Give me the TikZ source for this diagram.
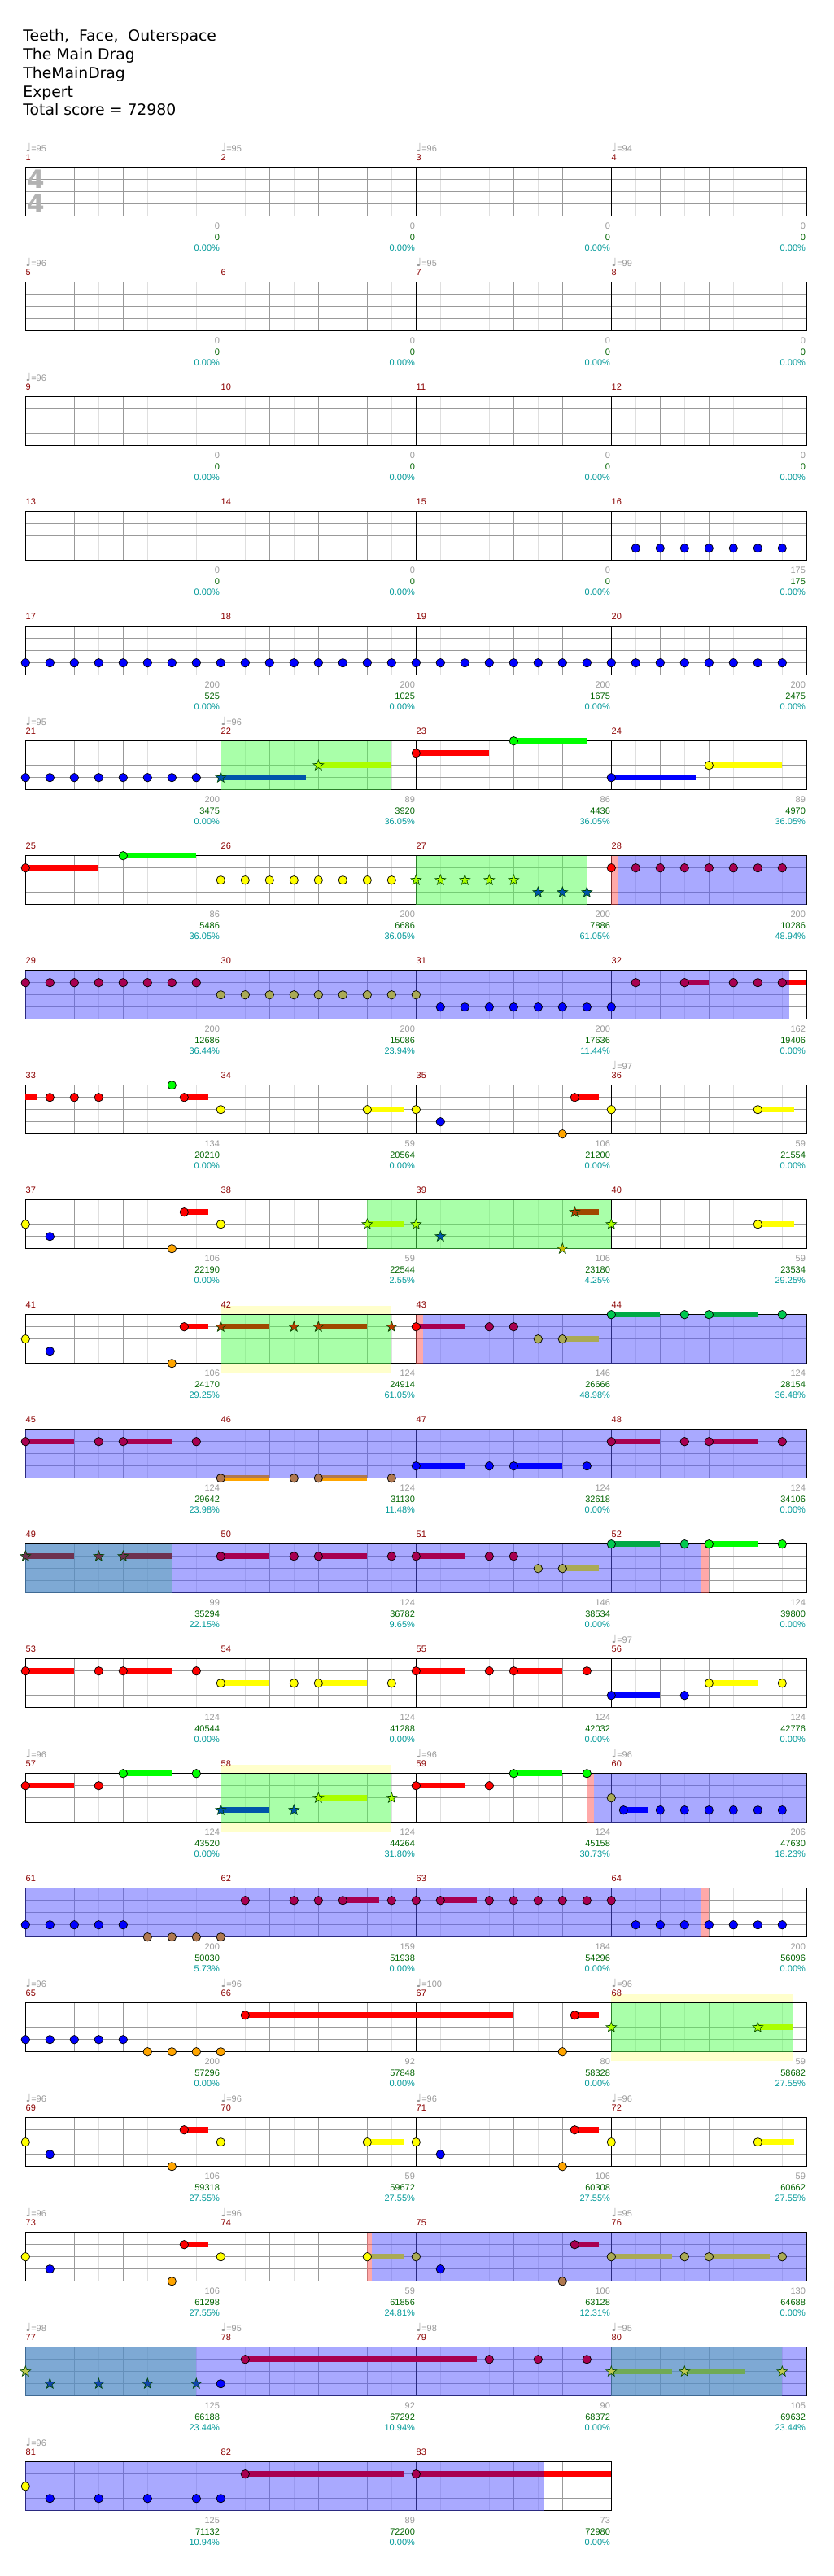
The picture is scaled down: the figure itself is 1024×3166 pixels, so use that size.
\documentclass[tikz,border=0pt]{standalone}
\usepackage{fontspec}
\setmainfont{DejaVu Sans}
\newfontfamily\chartfont{Liberation Sans}
\newfontfamily\notesym{DejaVu Sans}
\usepackage{tikz}

\tikzset{pics/spstar/.style={code={%
  \filldraw[fill=#1, draw=stardraw, line width=0.3pt] (90:3.4pt) -- (126:1.4pt) -- (162:3.4pt) -- (198:1.4pt) -- (234:3.4pt)
    -- (270:1.4pt) -- (306:3.4pt) -- (342:1.4pt) -- (18:3.4pt) -- (54:1.4pt) -- cycle;}}}

\newcommand{\staffgrid}[1]{%
  \fill[white] (0,0) rectangle (#1,60);
  \foreach \i in {1,3,...,#1} \draw[eighthline] (\i,0) -- (\i,60);
  \foreach \i in {2,4,...,#1} \draw[beatline] (\i,0) -- (\i,60);
  \foreach \j in {15,30,45} \draw[beatline] (0,\j) -- (#1,\j);
  \foreach \i in {8,16,...,#1} \draw[barline] (\i,0) -- (\i,60);
  \draw[barline, line width=0.75pt] (0,0) rectangle (#1,60);}
\newcommand{\notegem}[3]{\filldraw[fill=#3, draw=black, line width=0.35pt] (#1,{15*#2}) circle[radius=2.6pt];}
\newcommand{\notehold}[4]{\fill[#4] (#1,{15*#3-3.5}) rectangle (#2,{15*#3+3.5});}
\newcommand{\notestar}[3]{\pic at (#1,{15*#2}) {spstar=#3};}
\newcommand{\spzone}[2]{\fill[spfill] (#1,0) rectangle (#2,60);}
\newcommand{\odzone}[2]{\fill[odfill] (#1,0) rectangle (#2,60);}
\newcommand{\odedge}[2]{\fill[edgefill] (#1,0) rectangle (#2,60);}
\newcommand{\spglow}[2]{\fill[glowfill] (#1,-11) rectangle (#2,71);}
\newcommand{\measinfo}[6]{%
  \node[measnum] (m#2) at (8*#1,-11.7) {#2};
  \ifx&#3&\else\node[tempo] (t#2) at (8*#1,-24.7) {{\notesym\fontsize{7}{7}\selectfont ♩}=#3};\fi
  \node[scoregray] (g#2) at (8*#1+8,72.3) {#4};
  \node[scoregreen] (s#2) at (8*#1+8,85.6) {#5};
  \node[scoreteal] (p#2) at (8*#1+8,99) {#6};}

\begin{document}
\begin{tikzpicture}[x=0.5pt, y=-0.5pt,
    eighthline/.style={draw=gray!25, line width=0.5pt},
    beatline/.style={draw=gray!80, line width=0.5pt},
    barline/.style={draw=black, line width=0.5pt},
    spfill/.style={fill=spgreen, fill opacity=0.5},
    odfill/.style={fill=odpurple, fill opacity=0.5},
    edgefill/.style={fill=edgepink, fill opacity=0.5},
    glowfill/.style={fill=glowyellow},
    smalltext/.style={inner sep=0pt, font=\chartfont\fontsize{5.5}{6}\selectfont},
    measnum/.style={smalltext, anchor=west, text=measred},
    tempo/.style={smalltext, anchor=west, text=gray!80},
    scoregray/.style={smalltext, anchor=east, xshift=-0.5pt, text=gray!80},
    scoregreen/.style={smalltext, anchor=east, xshift=-0.5pt, text=scoregreen},
    scoreteal/.style={smalltext, anchor=east, xshift=-0.5pt, text=scoreteal},
    header/.style={anchor=base west, inner sep=0pt, font=\fontsize{9.4}{11.5}\selectfont},
    timesig/.style={inner sep=0pt, text=gray!60, font=\bfseries\fontsize{15.5}{16}\selectfont}]
  \definecolor{nred}{RGB}{255,0,0}
  \definecolor{ngreen}{RGB}{0,255,0}
  \definecolor{nyellow}{RGB}{255,255,0}
  \definecolor{nblue}{RGB}{0,0,255}
  \definecolor{norange}{RGB}{255,165,0}
  \definecolor{odred}{RGB}{168,0,80}
  \definecolor{odyellow}{RGB}{170,170,85}
  \definecolor{odorange}{RGB}{176,120,80}
  \definecolor{odgreen}{RGB}{0,200,80}
  \definecolor{odgreenhold}{RGB}{0,170,70}
  \definecolor{spred}{RGB}{160,72,0}
  \definecolor{spredstar}{RGB}{180,60,0}
  \definecolor{spyellow}{RGB}{170,255,0}
  \definecolor{spblue}{RGB}{0,85,170}
  \definecolor{sporange}{RGB}{200,190,0}
  \definecolor{spodred}{RGB}{110,50,80}
  \definecolor{spodblue}{RGB}{17,68,170}
  \definecolor{spodyellow}{RGB}{112,170,85}
  \definecolor{spodystar}{RGB}{190,200,80}
  \definecolor{stardraw}{RGB}{0,70,0}
  \definecolor{spgreen}{RGB}{85,255,85}
  \definecolor{odpurple}{RGB}{85,85,255}
  \definecolor{edgepink}{RGB}{255,85,85}
  \definecolor{glowyellow}{RGB}{255,255,204}
  \definecolor{measred}{RGB}{139,0,0}
  \definecolor{scoregreen}{RGB}{0,100,0}
  \definecolor{scoreteal}{RGB}{0,153,153}

  \useasboundingbox[fill=white] (0,0) rectangle (1024,3166);

  \node[header] (hsong) at (28,50) {Teeth,\ \ Face,\ \ Outerspace};
  \node[header] (hchart) at (28,73) {The Main Drag};
  \node[header] (hname) at (28,96) {TheMainDrag};
  \node[header] (hdiff) at (28,119) {Expert};
  \node[header] (hscore) at (28,141.7) {Total score = 72980};

  \begin{scope}[shift={(31.3,205.7)}, x=15pt]
    \staffgrid{32}
    \node[timesig] (ts1) at (0.44,14.8) {4};
    \node[timesig] (ts2) at (0.44,44.8) {4};
    \measinfo{0}{1}{95}{0}{0}{0.00\%}
    \measinfo{1}{2}{95}{0}{0}{0.00\%}
    \measinfo{2}{3}{96}{0}{0}{0.00\%}
    \measinfo{3}{4}{94}{0}{0}{0.00\%}
  \end{scope}

  \begin{scope}[shift={(31.3,346.7)}, x=15pt]
    \staffgrid{32}
    \measinfo{0}{5}{96}{0}{0}{0.00\%}
    \measinfo{1}{6}{}{0}{0}{0.00\%}
    \measinfo{2}{7}{95}{0}{0}{0.00\%}
    \measinfo{3}{8}{99}{0}{0}{0.00\%}
  \end{scope}

  \begin{scope}[shift={(31.3,487.7)}, x=15pt]
    \staffgrid{32}
    \measinfo{0}{9}{96}{0}{0}{0.00\%}
    \measinfo{1}{10}{}{0}{0}{0.00\%}
    \measinfo{2}{11}{}{0}{0}{0.00\%}
    \measinfo{3}{12}{}{0}{0}{0.00\%}
  \end{scope}

  \begin{scope}[shift={(31.3,628.7)}, x=15pt]
    \staffgrid{32}
    \foreach \e in {25,...,31} {\notegem{\e}{3}{nblue}}
    \measinfo{0}{13}{}{0}{0}{0.00\%}
    \measinfo{1}{14}{}{0}{0}{0.00\%}
    \measinfo{2}{15}{}{0}{0}{0.00\%}
    \measinfo{3}{16}{}{175}{175}{0.00\%}
  \end{scope}

  \begin{scope}[shift={(31.3,769.7)}, x=15pt]
    \staffgrid{32}
    \foreach \e in {0,...,31} {\notegem{\e}{3}{nblue}}
    \measinfo{0}{17}{}{200}{525}{0.00\%}
    \measinfo{1}{18}{}{200}{1025}{0.00\%}
    \measinfo{2}{19}{}{200}{1675}{0.00\%}
    \measinfo{3}{20}{}{200}{2475}{0.00\%}
  \end{scope}

  \begin{scope}[shift={(31.3,910.7)}, x=15pt]
    \staffgrid{32}
    \spzone{8}{15}
    \foreach \e in {0,...,7} {\notegem{\e}{3}{nblue}}
    \notehold{8}{11.5}{3}{spblue} \notestar{8}{3}{spblue}
    \notehold{12}{15}{2}{spyellow} \notestar{12}{2}{spyellow}
    \notehold{16}{19}{1}{nred} \notegem{16}{1}{nred}
    \notehold{20}{23}{0}{ngreen} \notegem{20}{0}{ngreen}
    \notehold{24}{27.5}{3}{nblue} \notegem{24}{3}{nblue}
    \notehold{28}{31}{2}{nyellow} \notegem{28}{2}{nyellow}
    \measinfo{0}{21}{95}{200}{3475}{0.00\%}
    \measinfo{1}{22}{96}{89}{3920}{36.05\%}
    \measinfo{2}{23}{}{86}{4436}{36.05\%}
    \measinfo{3}{24}{}{89}{4970}{36.05\%}
  \end{scope}

  \begin{scope}[shift={(31.3,1051.7)}, x=15pt]
    \staffgrid{32}
    \spzone{16}{23}
    \odedge{24}{24.27}
    \odzone{24.27}{32}
    \notehold{0}{3}{1}{nred} \notegem{0}{1}{nred}
    \notehold{4}{7}{0}{ngreen} \notegem{4}{0}{ngreen}
    \foreach \e in {8,...,15} {\notegem{\e}{2}{nyellow}}
    \foreach \e in {16,...,20} {\notestar{\e}{2}{spyellow}}
    \foreach \e in {21,22,23} {\notestar{\e}{3}{spblue}}
    \notegem{24}{1}{nred}
    \foreach \e in {25,...,31} {\notegem{\e}{1}{odred}}
    \measinfo{0}{25}{}{86}{5486}{36.05\%}
    \measinfo{1}{26}{}{200}{6686}{36.05\%}
    \measinfo{2}{27}{}{200}{7886}{61.05\%}
    \measinfo{3}{28}{}{200}{10286}{48.94\%}
  \end{scope}

  \begin{scope}[shift={(31.3,1192.7)}, x=15pt]
    \staffgrid{32}
    \odzone{0}{31.28}
    \foreach \e in {0,...,7} {\notegem{\e}{1}{odred}}
    \foreach \e in {8,...,16} {\notegem{\e}{2}{odyellow}}
    \foreach \e in {17,...,24} {\notegem{\e}{3}{nblue}}
    \notegem{25}{1}{odred}
    \notehold{27}{28}{1}{odred} \notegem{27}{1}{odred}
    \notegem{29}{1}{odred}
    \notegem{30}{1}{odred}
    \notehold{31}{31.28}{1}{odred} \notehold{31.28}{32}{1}{nred} \notegem{31}{1}{odred}
    \measinfo{0}{29}{}{200}{12686}{36.44\%}
    \measinfo{1}{30}{}{200}{15086}{23.94\%}
    \measinfo{2}{31}{}{200}{17636}{11.44\%}
    \measinfo{3}{32}{}{162}{19406}{0.00\%}
  \end{scope}

  \begin{scope}[shift={(31.3,1333.7)}, x=15pt]
    \staffgrid{32}
    \notehold{0}{0.48}{1}{nred}
    \foreach \e in {1,2,3} {\notegem{\e}{1}{nred}}
    \notegem{6}{0}{ngreen}
    \notehold{6.5}{7.5}{1}{nred} \notegem{6.5}{1}{nred}
    \notegem{8}{2}{nyellow}
    \notehold{14}{15.5}{2}{nyellow} \notegem{14}{2}{nyellow}
    \notegem{16}{2}{nyellow}
    \notegem{17}{3}{nblue}
    \notegem{22}{4}{norange}
    \notehold{22.5}{23.5}{1}{nred} \notegem{22.5}{1}{nred}
    \notegem{24}{2}{nyellow}
    \notehold{30}{31.5}{2}{nyellow} \notegem{30}{2}{nyellow}
    \measinfo{0}{33}{}{134}{20210}{0.00\%}
    \measinfo{1}{34}{}{59}{20564}{0.00\%}
    \measinfo{2}{35}{}{106}{21200}{0.00\%}
    \measinfo{3}{36}{97}{59}{21554}{0.00\%}
  \end{scope}

  \begin{scope}[shift={(31.3,1474.7)}, x=15pt]
    \staffgrid{32}
    \spzone{14}{24}
    \notegem{0}{2}{nyellow}
    \notegem{1}{3}{nblue}
    \notegem{6}{4}{norange}
    \notehold{6.5}{7.5}{1}{nred} \notegem{6.5}{1}{nred}
    \notegem{8}{2}{nyellow}
    \notehold{14}{15.5}{2}{spyellow} \notestar{14}{2}{spyellow}
    \notestar{16}{2}{spyellow}
    \notestar{17}{3}{spblue}
    \notestar{22}{4}{sporange}
    \notehold{22.5}{23.5}{1}{spred} \notestar{22.5}{1}{spredstar}
    \notestar{24}{2}{spyellow}
    \notehold{30}{31.5}{2}{nyellow} \notegem{30}{2}{nyellow}
    \measinfo{0}{37}{}{106}{22190}{0.00\%}
    \measinfo{1}{38}{}{59}{22544}{2.55\%}
    \measinfo{2}{39}{}{106}{23180}{4.25\%}
    \measinfo{3}{40}{}{59}{23534}{29.25\%}
  \end{scope}

  \begin{scope}[shift={(31.3,1615.7)}, x=15pt]
    \spglow{8}{15}
    \staffgrid{32}
    \spzone{8}{15}
    \odedge{16}{16.3}
    \odzone{16.3}{32}
    \notegem{0}{2}{nyellow}
    \notegem{1}{3}{nblue}
    \notegem{6}{4}{norange}
    \notehold{6.5}{7.5}{1}{nred} \notegem{6.5}{1}{nred}
    \notehold{8}{10}{1}{spred} \notestar{8}{1}{spredstar}
    \notestar{11}{1}{spredstar}
    \notehold{12}{14}{1}{spred} \notestar{12}{1}{spredstar}
    \notestar{15}{1}{spredstar}
    \notehold{16}{18}{1}{odred} \notegem{16}{1}{nred}
    \notegem{19}{1}{odred}
    \notegem{20}{1}{odred}
    \notegem{21}{2}{odyellow}
    \notehold{22}{23.5}{2}{odyellow} \notegem{22}{2}{odyellow}
    \notehold{24}{26}{0}{odgreenhold} \notegem{24}{0}{odgreen}
    \notegem{27}{0}{odgreen}
    \notehold{28}{30}{0}{odgreenhold} \notegem{28}{0}{odgreen}
    \notegem{31}{0}{odgreen}
    \measinfo{0}{41}{}{106}{24170}{29.25\%}
    \measinfo{1}{42}{}{124}{24914}{61.05\%}
    \measinfo{2}{43}{}{146}{26666}{48.98\%}
    \measinfo{3}{44}{}{124}{28154}{36.48\%}
  \end{scope}

  \begin{scope}[shift={(31.3,1756.7)}, x=15pt]
    \staffgrid{32}
    \odzone{0}{32}
    \notehold{0}{2}{1}{odred} \notegem{0}{1}{odred}
    \notegem{3}{1}{odred}
    \notehold{4}{6}{1}{odred} \notegem{4}{1}{odred}
    \notegem{7}{1}{odred}
    \fill[odorange] (8,56.5) rectangle (10,60); \fill[norange] (8,60) rectangle (10,63.5);
    \notegem{8}{4}{odorange}
    \notegem{11}{4}{odorange}
    \fill[odorange] (12,56.5) rectangle (14,60); \fill[norange] (12,60) rectangle (14,63.5);
    \notegem{12}{4}{odorange}
    \notegem{15}{4}{odorange}
    \notehold{16}{18}{3}{nblue} \notegem{16}{3}{nblue}
    \notegem{19}{3}{nblue}
    \notehold{20}{22}{3}{nblue} \notegem{20}{3}{nblue}
    \notegem{23}{3}{nblue}
    \notehold{24}{26}{1}{odred} \notegem{24}{1}{odred}
    \notegem{27}{1}{odred}
    \notehold{28}{30}{1}{odred} \notegem{28}{1}{odred}
    \notegem{31}{1}{odred}
    \measinfo{0}{45}{}{124}{29642}{23.98\%}
    \measinfo{1}{46}{}{124}{31130}{11.48\%}
    \measinfo{2}{47}{}{124}{32618}{0.00\%}
    \measinfo{3}{48}{}{124}{34106}{0.00\%}
  \end{scope}

  \begin{scope}[shift={(31.3,1897.7)}, x=15pt]
    \staffgrid{32}
    \spzone{0}{6}
    \odzone{0}{27.69}
    \odedge{27.69}{28}
    \notehold{0}{2}{1}{spodred} \notestar{0}{1}{spodred}
    \notestar{3}{1}{spodred}
    \notehold{4}{6}{1}{spodred} \notestar{4}{1}{spodred}
    \notehold{8}{10}{1}{odred} \notegem{8}{1}{odred}
    \notegem{11}{1}{odred}
    \notehold{12}{14}{1}{odred} \notegem{12}{1}{odred}
    \notegem{15}{1}{odred}
    \notehold{16}{18}{1}{odred} \notegem{16}{1}{odred}
    \notegem{19}{1}{odred}
    \notegem{20}{1}{odred}
    \notegem{21}{2}{odyellow}
    \notehold{22}{23.5}{2}{odyellow} \notegem{22}{2}{odyellow}
    \notehold{24}{26}{0}{odgreenhold} \notegem{24}{0}{odgreen}
    \notegem{27}{0}{odgreen}
    \notehold{28}{30}{0}{ngreen} \notegem{28}{0}{ngreen}
    \notegem{31}{0}{ngreen}
    \measinfo{0}{49}{}{99}{35294}{22.15\%}
    \measinfo{1}{50}{}{124}{36782}{9.65\%}
    \measinfo{2}{51}{}{146}{38534}{0.00\%}
    \measinfo{3}{52}{}{124}{39800}{0.00\%}
  \end{scope}

  \begin{scope}[shift={(31.3,2038.7)}, x=15pt]
    \staffgrid{32}
    \notehold{0}{2}{1}{nred} \notegem{0}{1}{nred}
    \notegem{3}{1}{nred}
    \notehold{4}{6}{1}{nred} \notegem{4}{1}{nred}
    \notegem{7}{1}{nred}
    \notehold{8}{10}{2}{nyellow} \notegem{8}{2}{nyellow}
    \notegem{11}{2}{nyellow}
    \notehold{12}{14}{2}{nyellow} \notegem{12}{2}{nyellow}
    \notegem{15}{2}{nyellow}
    \notehold{16}{18}{1}{nred} \notegem{16}{1}{nred}
    \notegem{19}{1}{nred}
    \notehold{20}{22}{1}{nred} \notegem{20}{1}{nred}
    \notegem{23}{1}{nred}
    \notehold{24}{26}{3}{nblue} \notegem{24}{3}{nblue}
    \notegem{27}{3}{nblue}
    \notehold{28}{30}{2}{nyellow} \notegem{28}{2}{nyellow}
    \notegem{31}{2}{nyellow}
    \measinfo{0}{53}{}{124}{40544}{0.00\%}
    \measinfo{1}{54}{}{124}{41288}{0.00\%}
    \measinfo{2}{55}{}{124}{42032}{0.00\%}
    \measinfo{3}{56}{97}{124}{42776}{0.00\%}
  \end{scope}

  \begin{scope}[shift={(31.3,2179.7)}, x=15pt]
    \spglow{8}{15}
    \staffgrid{32}
    \spzone{8}{15}
    \odedge{23}{23.3}
    \odzone{23.3}{32}
    \notehold{0}{2}{1}{nred} \notegem{0}{1}{nred}
    \notegem{3}{1}{nred}
    \notehold{4}{6}{0}{ngreen} \notegem{4}{0}{ngreen}
    \notegem{7}{0}{ngreen}
    \notehold{8}{10}{3}{spblue} \notestar{8}{3}{spblue}
    \notestar{11}{3}{spblue}
    \notehold{12}{14}{2}{spyellow} \notestar{12}{2}{spyellow}
    \notestar{15}{2}{spyellow}
    \notehold{16}{18}{1}{nred} \notegem{16}{1}{nred}
    \notegem{19}{1}{nred}
    \notehold{20}{22}{0}{ngreen} \notegem{20}{0}{ngreen}
    \notegem{23}{0}{ngreen}
    \notegem{24}{2}{odyellow}
    \notehold{24.5}{25.5}{3}{nblue} \notegem{24.5}{3}{nblue}
    \foreach \e in {26,...,31} {\notegem{\e}{3}{nblue}}
    \measinfo{0}{57}{96}{124}{43520}{0.00\%}
    \measinfo{1}{58}{}{124}{44264}{31.80\%}
    \measinfo{2}{59}{96}{124}{45158}{30.73\%}
    \measinfo{3}{60}{96}{206}{47630}{18.23\%}
  \end{scope}

  \begin{scope}[shift={(31.3,2320.7)}, x=15pt]
    \staffgrid{32}
    \odzone{0}{27.67}
    \odedge{27.67}{28}
    \foreach \e in {0,...,4} {\notegem{\e}{3}{nblue}}
    \foreach \e in {5,...,8} {\notegem{\e}{4}{odorange}}
    \notehold{13}{14.5}{1}{odred}
    \notehold{17}{18.5}{1}{odred}
    \foreach \e in {9,11,12,13,15,16,17,19,20,21,22,23,24} {\notegem{\e}{1}{odred}}
    \foreach \e in {25,...,31} {\notegem{\e}{3}{nblue}}
    \measinfo{0}{61}{}{200}{50030}{5.73\%}
    \measinfo{1}{62}{}{159}{51938}{0.00\%}
    \measinfo{2}{63}{}{184}{54296}{0.00\%}
    \measinfo{3}{64}{}{200}{56096}{0.00\%}
  \end{scope}

  \begin{scope}[shift={(31.3,2461.7)}, x=15pt]
    \spglow{24}{31.45}
    \staffgrid{32}
    \spzone{24}{31.45}
    \foreach \e in {0,...,4} {\notegem{\e}{3}{nblue}}
    \foreach \e in {5,...,8} {\notegem{\e}{4}{norange}}
    \notehold{9}{20}{1}{nred} \notegem{9}{1}{nred}
    \notegem{22}{4}{norange}
    \notehold{22.5}{23.5}{1}{nred} \notegem{22.5}{1}{nred}
    \notestar{24}{2}{spyellow}
    \notehold{30}{31.45}{2}{spyellow} \notestar{30}{2}{spyellow}
    \measinfo{0}{65}{96}{200}{57296}{0.00\%}
    \measinfo{1}{66}{96}{92}{57848}{0.00\%}
    \measinfo{2}{67}{100}{80}{58328}{0.00\%}
    \measinfo{3}{68}{96}{59}{58682}{27.55\%}
  \end{scope}

  \begin{scope}[shift={(31.3,2602.7)}, x=15pt]
    \staffgrid{32}
    \notegem{0}{2}{nyellow}
    \notegem{1}{3}{nblue}
    \notegem{6}{4}{norange}
    \notehold{6.5}{7.5}{1}{nred} \notegem{6.5}{1}{nred}
    \notegem{8}{2}{nyellow}
    \notehold{14}{15.5}{2}{nyellow} \notegem{14}{2}{nyellow}
    \notegem{16}{2}{nyellow}
    \notegem{17}{3}{nblue}
    \notegem{22}{4}{norange}
    \notehold{22.5}{23.5}{1}{nred} \notegem{22.5}{1}{nred}
    \notegem{24}{2}{nyellow}
    \notehold{30}{31.5}{2}{nyellow} \notegem{30}{2}{nyellow}
    \measinfo{0}{69}{96}{106}{59318}{27.55\%}
    \measinfo{1}{70}{96}{59}{59672}{27.55\%}
    \measinfo{2}{71}{96}{106}{60308}{27.55\%}
    \measinfo{3}{72}{96}{59}{60662}{27.55\%}
  \end{scope}

  \begin{scope}[shift={(31.3,2743.7)}, x=15pt]
    \staffgrid{32}
    \odedge{14}{14.2}
    \odzone{14.2}{32}
    \notegem{0}{2}{nyellow}
    \notegem{1}{3}{nblue}
    \notegem{6}{4}{norange}
    \notehold{6.5}{7.5}{1}{nred} \notegem{6.5}{1}{nred}
    \notegem{8}{2}{nyellow}
    \notehold{14}{15.5}{2}{odyellow} \notegem{14}{2}{nyellow}
    \notegem{16}{2}{odyellow}
    \notegem{17}{3}{nblue}
    \notegem{22}{4}{odorange}
    \notehold{22.5}{23.5}{1}{odred} \notegem{22.5}{1}{odred}
    \notehold{24}{26.5}{2}{odyellow} \notegem{24}{2}{odyellow}
    \notegem{27}{2}{odyellow}
    \notehold{28}{30.5}{2}{odyellow} \notegem{28}{2}{odyellow}
    \notegem{31}{2}{odyellow}
    \measinfo{0}{73}{96}{106}{61298}{27.55\%}
    \measinfo{1}{74}{96}{59}{61856}{24.81\%}
    \measinfo{2}{75}{}{106}{63128}{12.31\%}
    \measinfo{3}{76}{95}{130}{64688}{0.00\%}
  \end{scope}

  \begin{scope}[shift={(31.3,2884.7)}, x=15pt]
    \staffgrid{32}
    \spzone{0}{7}
    \spzone{24}{31}
    \odzone{0}{32}
    \notestar{0}{2}{spodystar}
    \foreach \e in {1,3,5,7} {\notestar{\e}{3}{spodblue}}
    \notegem{8}{3}{nblue}
    \notehold{9}{18.5}{1}{odred} \notegem{9}{1}{odred}
    \foreach \e in {19,21,23} {\notegem{\e}{1}{odred}}
    \notehold{24}{26.5}{2}{spodyellow} \notestar{24}{2}{spodystar}
    \notehold{27}{29.5}{2}{spodyellow} \notestar{27}{2}{spodystar}
    \notestar{31}{2}{spodystar}
    \measinfo{0}{77}{98}{125}{66188}{23.44\%}
    \measinfo{1}{78}{95}{92}{67292}{10.94\%}
    \measinfo{2}{79}{98}{90}{68372}{0.00\%}
    \measinfo{3}{80}{95}{105}{69632}{23.44\%}
  \end{scope}

  \begin{scope}[shift={(31.3,3025.7)}, x=15pt]
    \staffgrid{24}
    \odzone{0}{21.27}
    \notegem{0}{2}{nyellow}
    \foreach \e in {1,3,5,7,8} {\notegem{\e}{3}{nblue}}
    \notehold{9}{15.5}{1}{odred} \notegem{9}{1}{odred}
    \notehold{16}{21.27}{1}{odred} \notehold{21.27}{24}{1}{nred} \notegem{16}{1}{odred}
    \measinfo{0}{81}{96}{125}{71132}{10.94\%}
    \measinfo{1}{82}{}{89}{72200}{0.00\%}
    \measinfo{2}{83}{}{73}{72980}{0.00\%}
  \end{scope}
\end{tikzpicture}
\end{document}
